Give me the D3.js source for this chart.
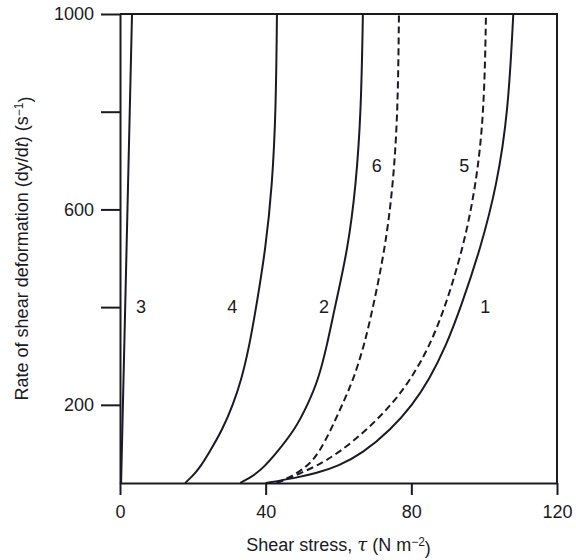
<!DOCTYPE html>
<html>
<head>
<meta charset="utf-8">
<title>Shear stress vs rate of shear deformation</title>
<script src="https://cdn.jsdelivr.net/npm/d3@7"></script>
<style>
  body { margin: 0; background: #fff; }
  svg { font-family: "Liberation Sans", Arial, sans-serif; }
  .axis path, .axis line { stroke: #1a1a24; stroke-width: 2; }
  .axis text { font-size: 18px; fill: #1a1a24; }
</style>
</head>
<body>
<script>
// shear rate values (s^-1) at which the curves were read
var rates = [40, 50, 60, 75, 100, 150, 200, 250, 320, 400, 520, 650, 800, 1000];

// shear stress (N m^-2) of each curve at those rates
var tau1 = [40, 48, 54, 60, 66.5, 74.5, 80.3, 84.8, 89.5, 93.6, 99, 103.5, 106.6, 108];
var tau2 = [33, 35.5, 37.5, 39.8, 42.8, 48.1, 51.5, 54.4, 56.8, 59, 62.6, 64.8, 66.2, 66.7];
var tau4 = [17.9, 19.3, 20.6, 22.2, 24.3, 28.2, 31, 33.3, 35.5, 37.4, 40, 41.8, 42.8, 43.1];
var tau5 = [43, 46.5, 49.5, 54, 59.8, 68, 74.5, 79.7, 85, 89.3, 94.2, 97.8, 100, 100.5];
var tau6 = [43, 46, 48.5, 51.5, 54.5, 58, 61, 64, 67, 69.5, 72.8, 75, 76.3, 76.6];
// curve 3 is a straight line
var rates3 = [40, 1000];
var tau3 = [0.3, 3.3];

// curve labels
var labelText = ["3", "4", "2", "1", "6", "5"];
var labelTau = [5.8, 30.8, 56, 100.3, 70.5, 94.5];
var labelRate = [400, 400, 400, 400, 690, 690];

var xTicks = [0, 40, 80, 120];
var yTicks = [200, 400, 600, 800, 1000];
var yTickLabels = [200, 600, 1000];

var width = 576, height = 560;
var margin = { top: 14, right: 19, bottom: 77, left: 120 };

var svg = d3.select("body").append("svg")
  .attr("width", width).attr("height", height);

var x = d3.scaleLinear().domain([0, 120])
  .range([margin.left, width - margin.right]);
var y = d3.scaleLinear().domain([40, 1000])
  .range([height - margin.bottom, margin.top]);

// frame: top and right edges
svg.append("path")
  .attr("d", "M" + x(0) + "," + y(1000) + "H" + x(120) + "V" + y(40))
  .attr("fill", "none").attr("stroke", "#1a1a24").attr("stroke-width", 2);

var xAxis = d3.axisBottom(x).tickValues(xTicks).tickSize(12).tickSizeOuter(0);
svg.append("g").attr("class", "axis")
  .attr("transform", "translate(0," + y(40) + ")")
  .call(xAxis)
  .call(function(g) { g.selectAll("text").attr("dy", "1.1em"); });

var yAxis = d3.axisLeft(y).tickValues(yTicks).tickSize(19).tickSizeOuter(0)
  .tickFormat(function(d) { return yTickLabels.indexOf(d) >= 0 ? d : ""; });
svg.append("g").attr("class", "axis")
  .attr("transform", "translate(" + x(0) + ",0)")
  .call(yAxis)
  .call(function(g) { g.selectAll("text").attr("x", -26); });

// curves
var line = d3.line()
  .x(function(d) { return x(d[0]); })
  .y(function(d) { return y(d[1]); })
  .curve(d3.curveBasis);

function pairs(taus, rs) {
  return taus.map(function(t, i) { return [t, rs[i]]; });
}

var curves = [
  { data: pairs(tau1, rates), dash: null },
  { data: pairs(tau2, rates), dash: null },
  { data: pairs(tau3, rates3), dash: null },
  { data: pairs(tau4, rates), dash: null },
  { data: pairs(tau5, rates), dash: "7,4" },
  { data: pairs(tau6, rates), dash: "7,4" }
];

svg.append("g").selectAll("path")
  .data(curves)
  .enter()
  .append("path")
  .attr("d", function(d) { return line(d.data); })
  .attr("fill", "none")
  .attr("stroke", "#1a1a24")
  .attr("stroke-width", 2)
  .attr("stroke-dasharray", function(d) { return d.dash; });

// curve numbers
svg.append("g").selectAll("text")
  .data(labelText)
  .enter()
  .append("text")
  .attr("x", function(d, i) { return x(labelTau[i]); })
  .attr("y", function(d, i) { return y(labelRate[i]); })
  .attr("dy", "0.35em")
  .attr("text-anchor", "middle")
  .attr("font-size", "18px")
  .attr("fill", "#1a1a24")
  .text(function(d) { return d; });

// axis titles
var xt = svg.append("text")
  .attr("x", (x(0) + x(120)) / 2)
  .attr("y", 551)
  .attr("text-anchor", "middle")
  .attr("font-size", "18px")
  .attr("fill", "#1a1a24");
xt.append("tspan").text("Shear stress, ");
xt.append("tspan").attr("font-family", "'DejaVu Serif', serif").attr("font-style", "italic").text("\u03c4");
xt.append("tspan").text(" (N m");
xt.append("tspan").attr("dy", "-0.45em").attr("font-size", "12px").text("\u22122");
xt.append("tspan").attr("dy", "0.45em").text(")");

var yt = svg.append("text")
  .attr("transform", "translate(28," + ((y(40) + y(1000)) / 2) + ") rotate(-90)")
  .attr("text-anchor", "middle")
  .attr("font-size", "18px")
  .attr("fill", "#1a1a24");
yt.append("tspan").text("Rate of shear deformation (dy/d");
yt.append("tspan").attr("font-style", "italic").text("t");
yt.append("tspan").text(") (s");
yt.append("tspan").attr("dy", "-0.45em").attr("font-size", "12px").text("\u22121");
yt.append("tspan").attr("dy", "0.45em").text(")");
</script>
</body>
</html>
